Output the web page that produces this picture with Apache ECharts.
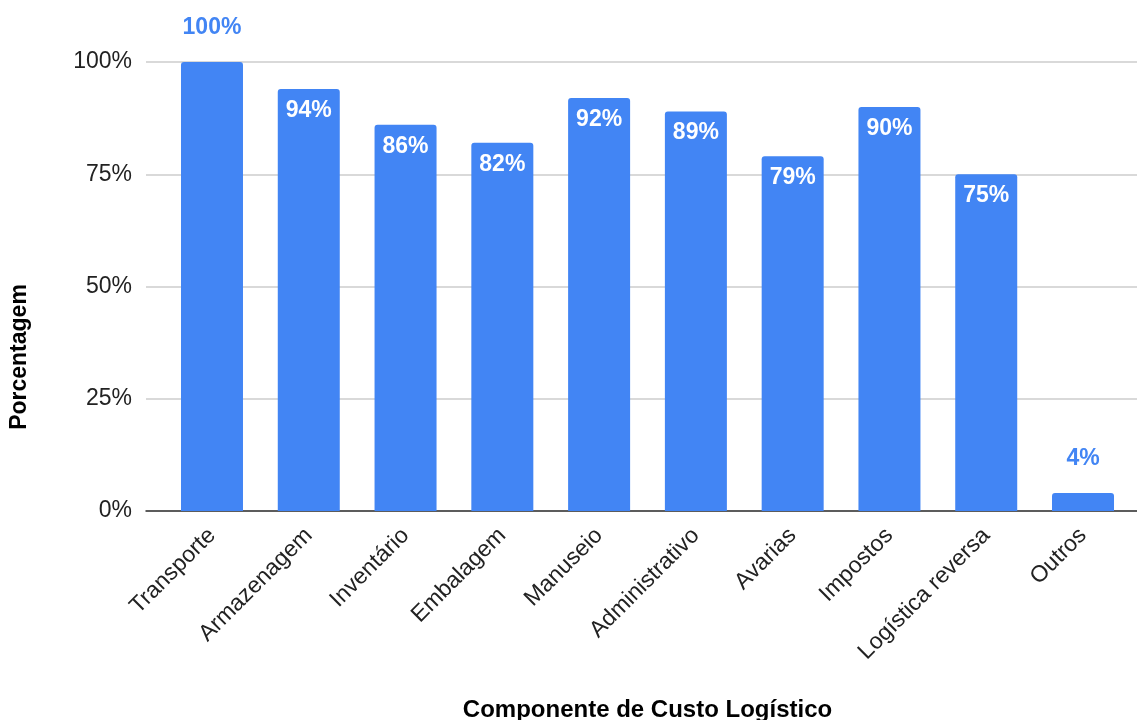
<!DOCTYPE html>
<html>
<head>
<meta charset="utf-8">
<script src="https://cdn.jsdelivr.net/npm/echarts@6/dist/echarts.min.js"></script>
<style>html,body{margin:0;padding:0;background:#fff}#c{width:1137px;height:720px}</style>
</head>
<body>
<div id="c"></div>
<script>
const categories = ['Transporte','Armazenagem','Inventário','Embalagem','Manuseio','Administrativo','Avarias','Impostos','Logística reversa','Outros'];
const values = [100, 94, 86, 82, 92, 89, 79, 90, 75, 4];
const yTicks = [0, 25, 50, 75, 100];
const xTitle = 'Componente de Custo Logístico';
const yTitle = 'Porcentagem';

const FONT = '"Liberation Sans", Arial, sans-serif';
const BLUE = '#4285F4';
const chart = echarts.init(document.getElementById('c'), null, {renderer: 'canvas'});

const data = values.map(v => {
  const outside = v >= 99 || v < 10;
  return {
    value: v,
    label: outside
      ? {position: 'top', distance: 23, color: BLUE}
      : {position: 'insideTop', distance: 10, color: '#fff'}
  };
});

chart.setOption({
  animation: false,
  grid: [
    {left: 163.6, right: 5.6, top: 62, bottom: 209, outerBoundsMode: 'none', containLabel: false},
    {left: 146, right: 0, top: 62, bottom: 209, outerBoundsMode: 'none', containLabel: false}
  ],
  graphic: [{
    type: 'text',
    rotation: Math.PI / 2,
    x: 20, y: 357,
    style: {text: yTitle, font: 'bold 23px ' + FONT, fill: '#000', align: 'center', verticalAlign: 'middle'}
  }],
  xAxis: [
    {
      type: 'category', gridIndex: 0, data: categories,
      axisLine: {show: false}, axisTick: {show: false},
      axisLabel: {rotate: 45, fontSize: 23, fontFamily: FONT, color: '#222', margin: 21, interval: 0},
      name: xTitle, nameLocation: 'middle', nameGap: 187,
      nameTextStyle: {fontSize: 24, fontWeight: 'bold', fontFamily: FONT, color: '#000'}
    },
    {
      type: 'category', gridIndex: 1, data: [''],
      axisLine: {show: true, lineStyle: {color: '#333', width: 1.5}},
      axisTick: {show: false}, axisLabel: {show: false}
    }
  ],
  yAxis: [
    {
      type: 'value', gridIndex: 0, min: 0, max: 100, interval: 25,
      axisLabel: {show: false}, splitLine: {show: false}, axisLine: {show: false}
    },
    {
      type: 'value', gridIndex: 1, min: 0, max: 100, interval: 25,
      axisLine: {show: false}, axisTick: {show: false},
      splitLine: {lineStyle: {color: '#ccc', width: 1.5}},
      axisLabel: {
        margin: 14, fontSize: 23, fontFamily: FONT, color: '#222',
        formatter: v => yTicks.includes(v) ? v + '%' : ''
      }
    }
  ],
  series: [{
    type: 'bar', xAxisIndex: 0, yAxisIndex: 0,
    data: data, barWidth: 62, z: 3,
    itemStyle: {color: BLUE, borderRadius: [3, 3, 0, 0]},
    label: {show: true, formatter: p => p.value + '%', fontSize: 23, fontWeight: 'bold', fontFamily: FONT}
  }]
});
</script>
</body>
</html>
